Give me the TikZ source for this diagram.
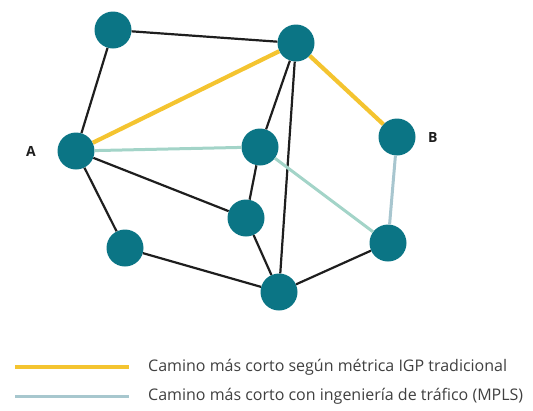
\documentclass[tikz,border=0pt]{standalone}
\usepackage{fontspec}
\setmainfont{Open Sans}
\usetikzlibrary{positioning}
\definecolor{petroleo}{HTML}{0B7585}
\definecolor{amarillo}{HTML}{F4C430}
\definecolor{verdeagua}{HTML}{A3D4C8}
\definecolor{grisazul}{HTML}{A8C6CF}
\definecolor{tinta}{HTML}{1E1E1E}

\begin{document}
\begin{tikzpicture}[
  x=1pt, y=-1pt,
  router/.style={circle, fill=petroleo, minimum size=37pt, inner sep=0pt},
  enlace/.style={draw=tinta, line width=2.2pt},
  igp/.style={draw=amarillo, line width=4.2pt},
  mpls/.style={draw=verdeagua, line width=3pt},
  etiq/.style={font=\bfseries\fontsize{14}{16}\selectfont, text=tinta},
  leyenda/.style={font=\fontsize{16}{18}\selectfont, text=tinta!85, anchor=west, inner sep=0pt}
]
  \useasboundingbox (0,0) rectangle (533,410);
  % routers
  \node[router] (ni)  at (113,30)  {};
  \node[router] (ns)  at (296,43)  {};
  \node[router] (A)   at (76,151)  {};
  \node[router] (nc)  at (260,147) {};
  \node[router] (B)   at (397,137) {};
  \node[router] (nm)  at (246,218) {};
  \node[router] (nbi) at (125,248) {};
  \node[router] (nb)  at (279,292) {};
  \node[router] (nbd) at (388,243) {};
  \node[etiq, left=18pt of A] (la) {A};
  \node[etiq, right=9pt of B] (lb) {B};
  % enlaces
  \draw[enlace] (ni) -- (ns);
  \draw[enlace] (ni) -- (A);
  \draw[enlace] (ns) -- (nc);
  \draw[enlace] (ns) -- (nb);
  \draw[enlace] (nc) -- (nm);
  \draw[enlace] (A) -- (nm);
  \draw[enlace] (A) -- (nbi);
  \draw[enlace] (nm) -- (nb);
  \draw[enlace] (nbi) -- (nb);
  \draw[enlace] (nb) -- (nbd);
  % caminos
  \draw[igp] (A) -- (ns);
  \draw[igp] (ns) -- (B);
  \draw[mpls] (A) -- (nc);
  \draw[mpls] (nc) -- (nbd);
  \draw[mpls, draw=grisazul] (nbd) -- (B);
  % leyenda
  \coordinate (l1a) at (15,367);
  \coordinate (l1b) at (129,367);
  \coordinate (l2a) at (15,396);
  \coordinate (l2b) at (129,396);
  \draw[igp, line width=3.5pt] (l1a) -- (l1b);
  \draw[mpls, draw=grisazul!90!verdeagua] (l2a) -- (l2b);
  \node[leyenda, right=19pt of l1b] (t1) {Camino más corto según métrica IGP tradicional};
  \node[leyenda, right=19pt of l2b] (t2) {Camino más corto con ingeniería de tráfico (MPLS)};
\end{tikzpicture}
\end{document}
